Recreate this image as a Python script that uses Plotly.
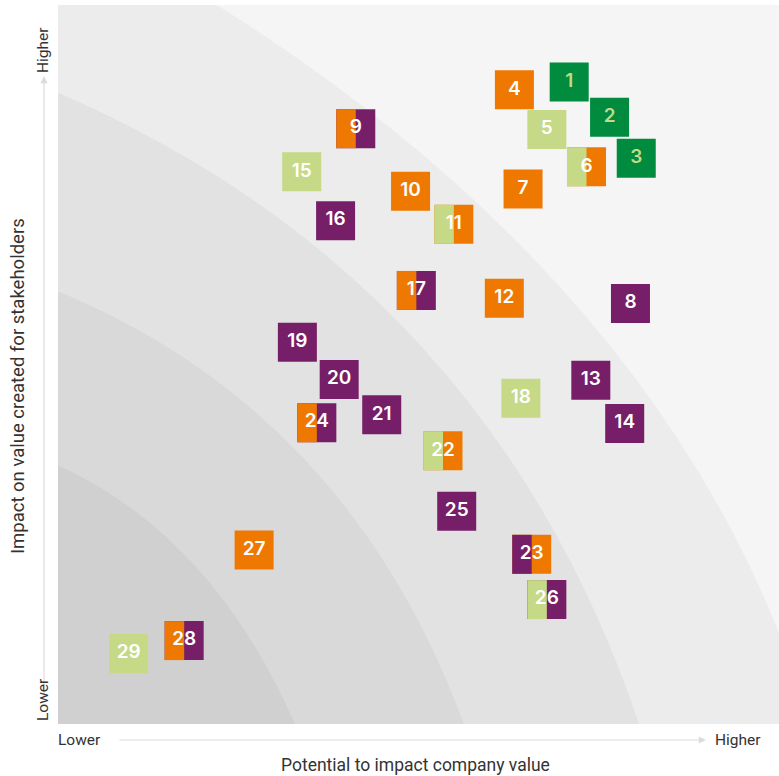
import plotly.graph_objects as go

# Materiality matrix: each topic is a square; split squares carry two pillar colours
topic_ids = [str(i) for i in range(1, 30)]
company_value = [70.9, 76.5, 80.2, 63.3, 67.8, 73.3, 64.5, 79.4, 41.3, 48.9,
                 54.9, 61.9, 73.9, 78.6, 33.8, 38.5, 49.7, 64.2, 33.2, 39.0,
                 44.9, 53.4, 65.7, 35.9, 55.3, 67.8, 27.2, 17.5, 9.8]
stakeholder_value = [89.3, 84.4, 78.7, 88.2, 82.7, 77.5, 74.4, 58.5, 82.8, 74.1,
                     69.5, 59.2, 47.8, 41.8, 76.8, 70.0, 60.3, 45.3, 53.1, 47.9,
                     43.0, 38.0, 23.6, 41.9, 29.6, 17.3, 24.2, 11.6, 9.8]
# pillar codes: G = dark green, L = light green, O = orange, P = purple
left_pillar = ["G", "G", "G", "O", "L", "L", "O", "P", "O", "O",
               "L", "O", "P", "P", "L", "P", "O", "L", "P", "P",
               "P", "L", "P", "O", "P", "L", "O", "O", "L"]
right_pillar = ["G", "G", "G", "O", "L", "O", "O", "P", "P", "O",
                "O", "O", "P", "P", "L", "P", "P", "L", "P", "P",
                "P", "O", "O", "P", "P", "P", "O", "P", "L"]

x_labels = ["Lower", "Higher"]
y_labels = ["Lower", "Higher"]
x_title = "Potential to impact company value"
y_title = "Impact on value created for stakeholders"

PILLAR_COLORS = {"G": "#008b3e", "L": "#c6d987", "O": "#ef7900", "P": "#761f68"}
TEXT_COLORS = {"G": "#c6d987", "L": "#ffffff", "O": "#ffffff", "P": "#ffffff"}

W, H = 779, 776
ML, MR, MT, MB = 58, 0, 5, 52
PW, PH = W - ML - MR, H - MT - MB
XR, YR = (0, 100), (0, 100)
SQ = 39  # square side in pixels

half_x = SQ / 2 / PW * (XR[1] - XR[0])
half_y = SQ / 2 / PH * (YR[1] - YR[0])


def paper_x(px):
    return (px - ML) / PW


def paper_y(py):
    return (H - MB - py) / PH


shapes = []

# concentric bands, lightest (outer) to darkest (inner)
bands = [
    ("#ececec", "M 0,0 L 0,100 L 22.05,100 Q 79.7,63.6 100,12.66 L 100,0 Z"),
    ("#e2e2e2", "M 0,0 L 0,87.8 Q 59.7,62.0 80.6,0 Z"),
    ("#d9d9d9", "M 0,0 L 0,60.2 Q 40.3,43.5 56.3,0 Z"),
    ("#d0d0d0", "M 0,0 L 0,36.0 Q 21.39,26.2 32.87,0 Z"),
]
for color, path in bands:
    shapes.append(dict(type="path", xref="x", yref="y", path=path,
                       fillcolor=color, line=dict(width=0), layer="below"))

# topic squares: full square in the right-hand colour, left half overlaid when split
for x, y, lp, rp in zip(company_value, stakeholder_value, left_pillar, right_pillar):
    shapes.append(dict(type="rect", xref="x", yref="y",
                       x0=x - half_x, x1=x + half_x, y0=y - half_y, y1=y + half_y,
                       fillcolor=PILLAR_COLORS[rp], line=dict(width=0), layer="below"))
    if lp != rp:
        shapes.append(dict(type="rect", xref="x", yref="y",
                           x0=x - half_x, x1=x, y0=y - half_y, y1=y + half_y,
                           fillcolor=PILLAR_COLORS[lp], line=dict(width=0), layer="below"))

fig = go.Figure()
fig.add_trace(go.Scatter(
    x=company_value, y=stakeholder_value, mode="text", text=topic_ids,
    textposition="middle center",
    textfont=dict(family="Inter", size=19, weight=600,
                  color=[TEXT_COLORS[p] for p in left_pillar]),
    hoverinfo="skip", showlegend=False,
))

# axis arrows (tail offsets in pixels from the head)
arrow_color = "#dcdcdc"
annotations = [
    dict(xref="paper", yref="paper", x=paper_x(706), y=paper_y(740),
         ax=118 - 706, ay=0, showarrow=True, arrowhead=2, arrowsize=1.2,
         arrowwidth=1.2, arrowcolor=arrow_color, text=""),
    dict(xref="paper", yref="paper", x=paper_x(44), y=paper_y(76),
         ax=0, ay=700 - 76, showarrow=True, arrowhead=2, arrowsize=1.2,
         arrowwidth=1.2, arrowcolor=arrow_color, text=""),
]
label_font = dict(family="Roboto", size=15.5, color="#333333")
annotations += [
    dict(xref="paper", yref="paper", x=paper_x(79), y=paper_y(740),
         xanchor="center", yanchor="middle",
         text=x_labels[0], showarrow=False, font=label_font),
    dict(xref="paper", yref="paper", x=paper_x(738), y=paper_y(740),
         xanchor="center", yanchor="middle",
         text=x_labels[1], showarrow=False, font=label_font),
    dict(xref="paper", yref="paper", x=paper_x(43), y=paper_y(700),
         xanchor="center", yanchor="middle",
         text=y_labels[0], showarrow=False, font=label_font, textangle=-90),
    dict(xref="paper", yref="paper", x=paper_x(43), y=paper_y(50),
         xanchor="center", yanchor="middle",
         text=y_labels[1], showarrow=False, font=label_font, textangle=-90),
    dict(xref="paper", yref="paper", x=paper_x(415), y=paper_y(765),
         xanchor="center", yanchor="middle", text=x_title, showarrow=False,
         font=dict(family="Roboto", size=17.5, color="#333333")),
    dict(xref="paper", yref="paper", x=paper_x(18), y=paper_y(386),
         xanchor="center", yanchor="middle", text=y_title, showarrow=False,
         textangle=-90, font=dict(family="Roboto", size=18.5, color="#333333")),
]

fig.update_layout(
    width=W, height=H,
    margin=dict(l=ML, r=MR, t=MT, b=MB),
    paper_bgcolor="#ffffff", plot_bgcolor="#f5f5f5",
    xaxis=dict(range=list(XR), showgrid=False, zeroline=False, showticklabels=False,
               ticks="", showline=False, fixedrange=True),
    yaxis=dict(range=list(YR), showgrid=False, zeroline=False, showticklabels=False,
               ticks="", showline=False, fixedrange=True),
    shapes=shapes, annotations=annotations, showlegend=False,
)

fig.write_html("out.html")
